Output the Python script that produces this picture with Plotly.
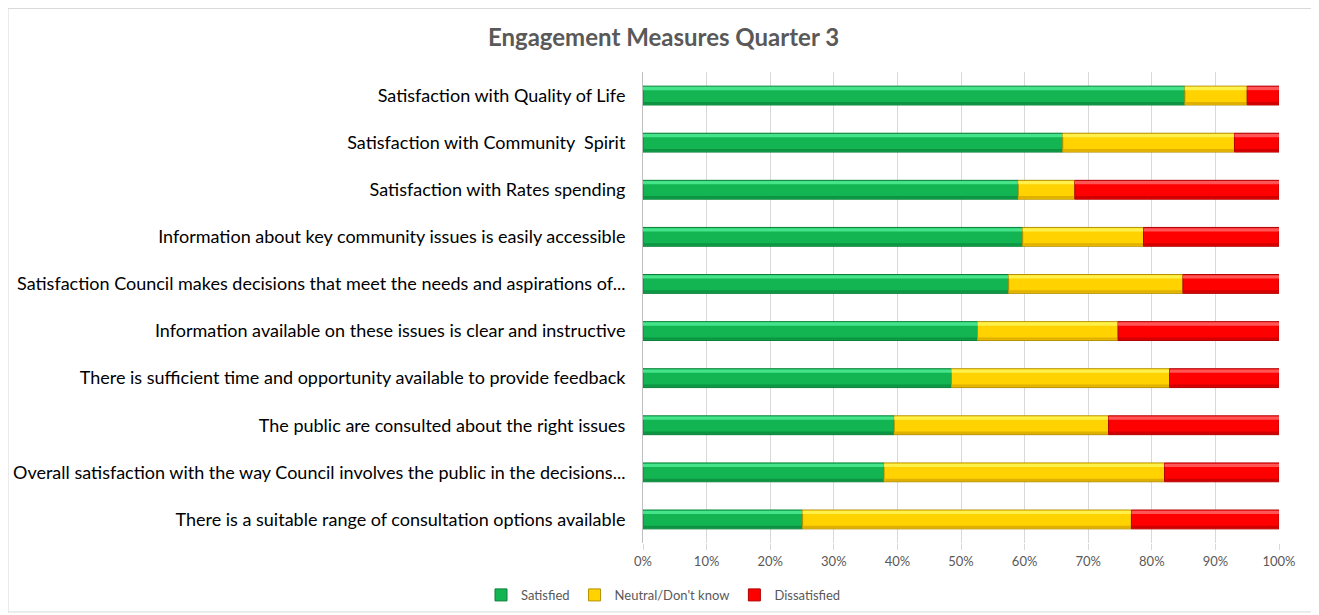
import plotly.graph_objects as go
import numpy as np

categories = [
    "Satisfaction with Quality of Life",
    "Satisfaction with Community  Spirit",
    "Satisfaction with Rates spending",
    "Information about key community issues is easily accessible",
    "Satisfaction Council makes decisions that meet the needs and aspirations of...",
    "Information available on these issues is clear and instructive",
    "There is sufficient time and opportunity available to provide feedback",
    "The public are consulted about the right issues",
    "Overall satisfaction with the way Council involves the public in the decisions...",
    "There is a suitable range of consultation options available",
]
satisfied = [85.2, 66.0, 59.0, 59.7, 57.5, 52.6, 48.5, 39.5, 37.9, 25.1]
neutral = [9.8, 27.0, 8.9, 19.0, 27.4, 22.1, 34.3, 33.7, 44.1, 51.7]
dissatisfied = [5.0, 7.0, 32.1, 21.3, 15.1, 25.3, 17.2, 26.8, 18.0, 23.2]
tick_vals = [0, 10, 20, 30, 40, 50, 60, 70, 80, 90, 100]
tick_text = ["0%", "10%", "20%", "30%", "40%", "50%", "60%", "70%", "80%", "90%", "100%"]

# name, values, body colour, edge colour, highlight colour, shade colour
series = [
    ("Satisfied", satisfied, "#13B553", "#0A7F38", "#45E38A", "#0C9443"),
    ("Neutral/Don't know", neutral, "#FFD200", "#B59000", "#FFF04A", "#E0B000"),
    ("Dissatisfied", dissatisfied, "#FF0000", "#B00000", "#FF5555", "#D00000"),
]

FONT = "Lato, Calibri, 'Liberation Sans', sans-serif"

fig = go.Figure()
base = np.zeros(len(categories))
for name, vals, col, edge, hi, shade in series:
    vals = np.array(vals)
    # main bar
    fig.add_trace(go.Bar(
        y=categories, x=vals, base=base, name=name, orientation="h",
        width=0.4, offset=-0.2, legendgroup=name,
        marker=dict(color=col, line=dict(color=edge, width=1)),
        hoverinfo="x+name",
    ))
    # bevel highlight (top)
    fig.add_trace(go.Bar(
        y=categories, x=vals, base=base, orientation="h", showlegend=False,
        width=0.07, offset=-0.185, legendgroup=name, hoverinfo="skip",
        marker=dict(color=hi, line=dict(width=0)),
    ))
    # bevel shade (bottom)
    fig.add_trace(go.Bar(
        y=categories, x=vals, base=base, orientation="h", showlegend=False,
        width=0.05, offset=0.135, legendgroup=name, hoverinfo="skip",
        marker=dict(color=shade, line=dict(width=0)),
    ))
    base = base + vals

fig.update_layout(
    barmode="overlay",
    width=1311, height=607,
    margin=dict(l=635, r=40, t=64, b=72, autoexpand=False),
    paper_bgcolor="white", plot_bgcolor="white",
    font=dict(family=FONT, color="#000000"),
    title=dict(text="<b>Engagement Measures Quarter 3</b>", x=0.5, xref="container",
               xanchor="center", y=0.952, yanchor="middle",
               font=dict(size=24, color="#595959", family=FONT)),
    legend=dict(orientation="h", x=0.5, xref="container", xanchor="center",
                y=0.033, yref="container", yanchor="middle",
                font=dict(size=13, color="#595959"), itemwidth=30,
                traceorder="normal"),
    xaxis=dict(range=[0, 100], tickvals=tick_vals, ticktext=tick_text,
               showgrid=True, gridcolor="#D9D9D9", gridwidth=1,
               ticks="outside", ticklen=6, tickcolor="#D9D9D9",
               tickfont=dict(size=13, color="#595959"), automargin=False,
               zeroline=False, showline=False, fixedrange=True),
    yaxis=dict(autorange="reversed", showline=True, linecolor="#BFBFBF",
               ticks="", tickfont=dict(size=18, color="#000000"),
               ticklabelstandoff=13, automargin=False, fixedrange=True),
    shapes=[dict(type="rect", xref="paper", yref="paper",
                 x0=-0.9984, x1=1.0535, y0=-0.1465, y1=1.1348,
                 line=dict(color="#D9D9D9", width=1), fillcolor="rgba(0,0,0,0)",
                 layer="below")],
)

fig.write_html("out.html")
